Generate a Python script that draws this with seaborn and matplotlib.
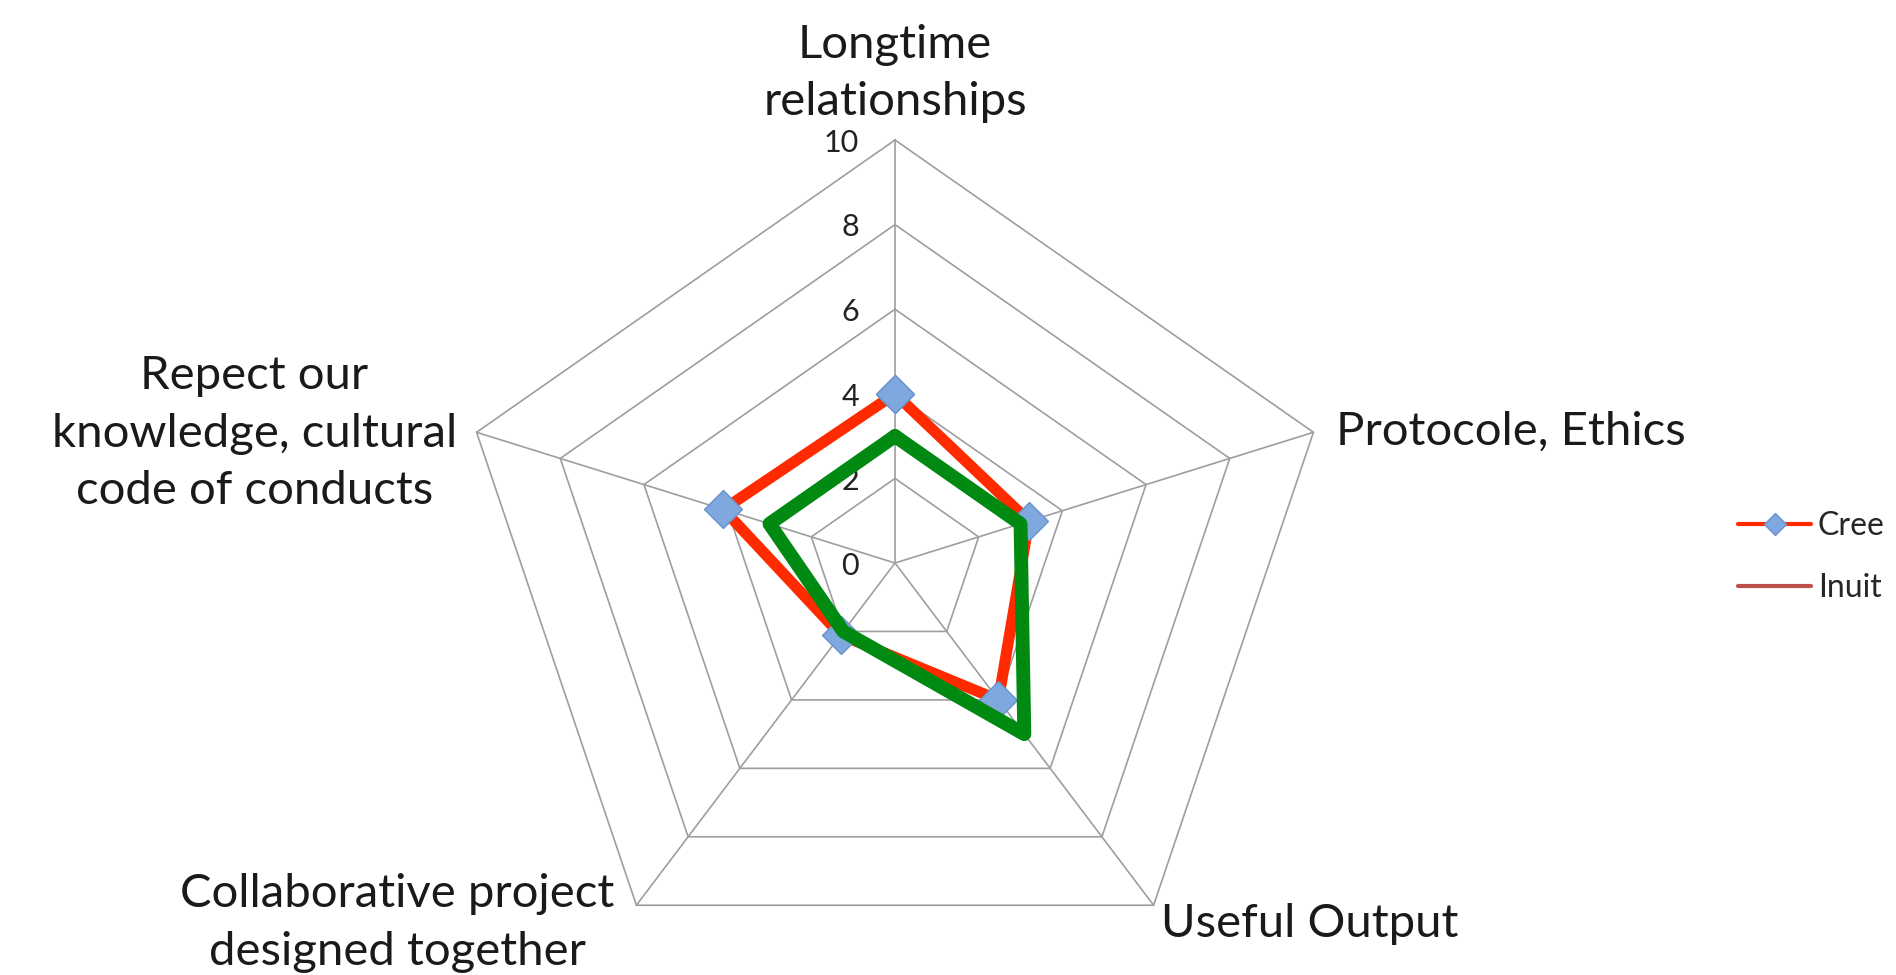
import numpy as np
import pandas as pd
import matplotlib
matplotlib.use("Agg")
import matplotlib.pyplot as plt
from matplotlib.lines import Line2D
import seaborn as sns

# data
categories = ["Longtime\nrelationships", "Protocole, Ethics", "Useful Output",
              "Collaborative project\ndesigned together",
              "Repect our\nknowledge, cultural\ncode of conducts"]
cree = [4.0, 3.2, 4.0, 2.1, 4.1]
inuit = [3.0, 3.0, 5.0, 2.0, 3.0]
ticks = [0, 2, 4, 6, 8, 10]

sns.set_theme(style="white")
plt.rcParams["font.family"] = ["Lato", "DejaVu Sans"]

fig = plt.figure(figsize=(18.96, 9.75), dpi=100)
ax = fig.add_axes([0.240, -0.0113, 0.4641, 0.8677], projection="polar")
ax.set_aspect("auto")
ax.set_theta_offset(np.pi / 2)
ax.set_theta_direction(-1)
ax.set_ylim(0, 10)
ax.grid(False)
ax.set_xticks([])
ax.set_yticks([])
ax.spines["polar"].set_visible(False)
ax.patch.set_alpha(0)

n = len(categories)
angles = np.linspace(0, 2 * np.pi, n, endpoint=False)
closed = np.append(angles, 2 * np.pi)

grid_col = "#9e9e9e"
# pentagon grid and spokes
for t in ticks[1:]:
    ax.plot(closed, [t] * (n + 1), color=grid_col, lw=1.2, clip_on=False, zorder=1)
for a in angles:
    ax.plot([a, a], [0, 10], color=grid_col, lw=1.2, clip_on=False, zorder=1)

# series
df = pd.DataFrame({
    "angle": np.concatenate([closed, closed]),
    "value": cree + cree[:1] + inuit + inuit[:1],
    "group": ["Cree"] * (n + 1) + ["Inuit"] * (n + 1),
})
sns.lineplot(data=df[df.group == "Cree"], x="angle", y="value", sort=False,
             estimator=None, color="#ff2a00", lw=8, marker="D", markersize=19,
             markerfacecolor="#7ea8de", markeredgecolor="#6a93cc",
             markeredgewidth=1, ax=ax, clip_on=False, zorder=3)
sns.lineplot(data=df[df.group == "Inuit"], x="angle", y="value", sort=False,
             estimator=None, color="#008a12", lw=10, ax=ax, clip_on=False,
             zorder=4)
ax.set_xlabel("")
ax.set_ylabel("")
ax.set_ylim(0, 10)

# radial tick labels
for t in ticks:
    ax.annotate(str(t), (0, t), xytext=(-26, -2), textcoords="offset points",
                ha="right", va="center", fontsize=22, color="#222222")

# category labels
label_fmt = [
    dict(xytext=(0, 12), ha="center", va="bottom"),
    dict(xytext=(16, -9), ha="left", va="baseline"),
    dict(xytext=(5, -23), ha="left", va="baseline"),
    dict(xytext=(-16, 23), ha="right", va="top"),
    dict(xytext=(-14, -1), ha="right", va="center"),
]
for a, lab, kw in zip(angles, categories, label_fmt):
    ax.annotate(lab, (a, 10), textcoords="offset points", fontsize=34,
                color="#1a1a1a", multialignment="center", linespacing=1.45,
                annotation_clip=False, **kw)

# legend
handles = [
    Line2D([], [], color="#ff2a00", lw=3, marker="D", markersize=11,
           markerfacecolor="#7ea8de", markeredgecolor="#6a93cc"),
    Line2D([], [], color="#c0504d", lw=3),
]
fig.legend(handles, ["Cree", "Inuit"], loc="center left",
           bbox_to_anchor=(1738 / 1896, 1 - 557 / 975), frameon=False,
           fontsize=23, handlelength=2.3, handletextpad=0.2,
           labelspacing=1.0, borderpad=0, borderaxespad=0)

fig.savefig("out.png", dpi=100)
